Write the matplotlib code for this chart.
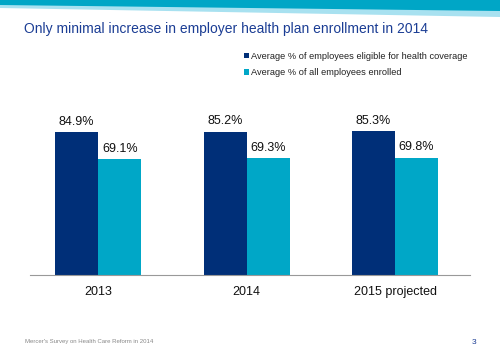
import matplotlib.pyplot as plt
import numpy as np
from matplotlib.patches import Polygon

plt.rcParams['font.family'] = ['Liberation Sans', 'DejaVu Sans']

years = ['2013', '2014', '2015 projected']
eligible = [84.9, 85.2, 85.3]
enrolled = [69.1, 69.3, 69.8]
series_names = ['Average % of employees eligible for health coverage',
                'Average % of all employees enrolled']

navy = '#002f78'
teal = '#00a7c7'

W, H = 500, 357
fig = plt.figure(figsize=(W / 100, H / 100), dpi=100)

# header bands
def px(x, y):
    return (x / W, 1 - y / H)

light = Polygon([px(0, 0), px(500, 0), px(500, 17), px(0, 8)],
                closed=True, transform=fig.transFigure, color='#a8e1f0', lw=0)
dark = Polygon([px(0, 0), px(500, 0), px(500, 11), px(0, 5)],
               closed=True, transform=fig.transFigure, color='#00a6c6', lw=0)
fig.patches.extend([light, dark])

fig.text(24 / W, 1 - 29 / H,
         'Only minimal increase in employer health plan enrollment in 2014',
         color='#1b3d94', fontsize=10, va='center', ha='left')

ax = fig.add_axes([30 / W, 1 - 275 / H, 440 / W, 175 / H])
x = np.arange(len(years))
w = 0.29
b1 = ax.bar(x - w / 2, eligible, w, color=navy, label=series_names[0])
b2 = ax.bar(x + w / 2, enrolled, w, color=teal, label=series_names[1])
for bars in (b1, b2):
    ax.bar_label(bars, labels=[f'{v:.1f}%' for v in bars.datavalues],
                 padding=3, fontsize=9, color='#111111')

ax.set_xlim(-0.46, 2.505)
ax.set_ylim(0, 104)
ax.set_xticks(x)
ax.set_xticklabels(years, fontsize=9, color='#111111')
ax.tick_params(axis='x', length=0, pad=8)
ax.set_yticks([])
for s in ['top', 'left', 'right']:
    ax.spines[s].set_visible(False)
ax.spines['bottom'].set_color('#999999')
ax.spines['bottom'].set_linewidth(0.8)

fig.legend(handles=[b1, b2], loc='upper left',
           bbox_to_anchor=(239 / W, 1 - 47 / H), frameon=False,
           fontsize=6.7, handlelength=0.55, handleheight=0.55,
           handletextpad=0.2, labelspacing=0.8, borderpad=0,
           labelcolor='#222222')

fig.text(25 / W, 1 - 341 / H, "Mercer's Survey on Health Care Reform in 2014",
         color='#888888', fontsize=4.35, va='center', ha='left')
fig.text(474 / W, 1 - 342 / H, '3', color='#1b3d94', fontsize=6,
         va='center', ha='center')

fig.savefig('out.png', dpi=100)
